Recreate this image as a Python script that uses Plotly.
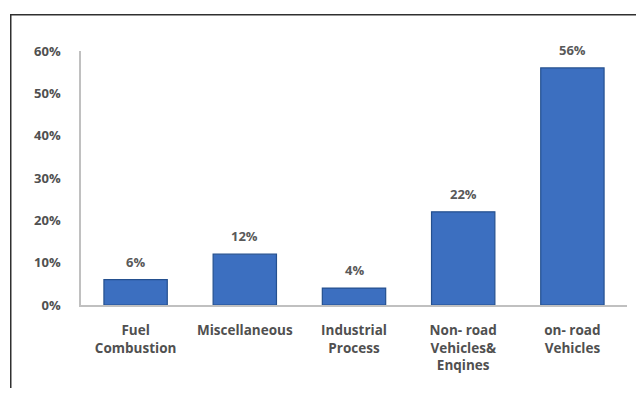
import plotly.graph_objects as go

categories = ["Fuel<br>Combustion", "Miscellaneous", "Industrial<br>Process",
              "Non- road<br>Vehicles&<br>Enqines", "on- road<br>Vehicles"]
values = [6, 12, 4, 22, 56]
label_text = ["6%", "12%", "4%", "22%", "56%"]
y_ticks = [0, 10, 20, 30, 40, 50, 60]
y_tick_text = ["0%", "10%", "20%", "30%", "40%", "50%", "60%"]

# page body adds an 8px margin, so the figure is smaller and shifted
W, H = 636, 380
ML, MR, MT, MB = 73, 17, 43, 83
pw, ph = W - ML - MR, H - MT - MB

fig = go.Figure()
fig.add_trace(go.Bar(
    x=categories, y=values,
    marker=dict(color="#3c6fc0", line=dict(color="#24508f", width=1.2)),
    width=0.58,
))

for c, v, t in zip(categories, values, label_text):
    fig.add_annotation(
        x=c, y=v, text=t, showarrow=False, yanchor="bottom", yshift=7,
        font=dict(family="Open Sans", size=13, color="#595959", weight="bold"),
    )

# outer frame: a large empty box whose top and left edges fall inside the page
fig.add_annotation(
    xref="paper", yref="paper", x=(2 - ML) / pw, y=(H - MB - 5.5) / ph,
    xanchor="left", yanchor="top", text=" ", showarrow=False,
    width=W + 40, height=H + 40, borderpad=0,
    bordercolor="#303030", borderwidth=1.5, bgcolor="rgba(0,0,0,0)",
)

fig.update_layout(
    width=W, height=H,
    margin=dict(l=ML, r=MR, t=MT, b=MB, pad=0),
    paper_bgcolor="white", plot_bgcolor="white",
    showlegend=False,
    font=dict(family="Open Sans", size=13, color="#595959"),
    xaxis=dict(
        showline=True, linecolor="#c0c0c0", linewidth=1.5,
        ticks="", showgrid=False,
        tickfont=dict(family="Open Sans", size=13.5, color="#505050", weight="bold"),
        ticklabelstandoff=12,
    ),
    yaxis=dict(
        range=[0, 60], tickvals=y_ticks, ticktext=y_tick_text,
        showline=True, linecolor="#c0c0c0", linewidth=1.5,
        ticks="", showgrid=False, zeroline=False,
        tickfont=dict(family="Open Sans", size=13, color="#505050", weight="bold"),
        ticklabelstandoff=16,
    ),
)

fig.write_html("out.html")
